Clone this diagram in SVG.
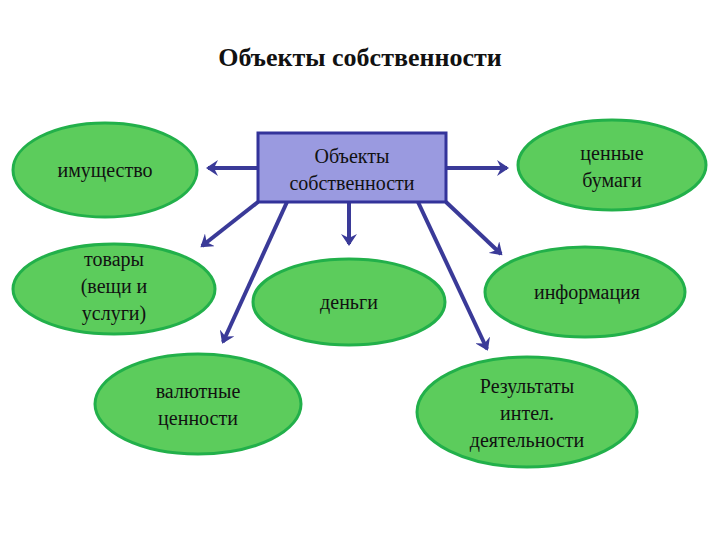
<svg xmlns="http://www.w3.org/2000/svg" width="720" height="540" viewBox="0 0 720 540">
<style>
.e{fill:#5ccc5c;stroke:#22b04a;stroke-width:3}
.t{font-family:"Liberation Serif",serif;font-size:20px;fill:#111;text-anchor:middle}
.c line{stroke:#3a3a98;stroke-width:4;marker-end:url(#a)}
</style>
<defs><marker id="a" markerWidth="4" markerHeight="4" refX="2.5" refY="2" orient="auto"><path d="M0,0 L3,2 L0,4 L1,2 Z" fill="#3a3a98"/></marker></defs>
<rect width="720" height="540" fill="#fff"/>
<text x="360" y="66" class="t" style="font-size:26px;font-weight:bold">Объекты собственности</text>
<g class="c">
<line x1="258" y1="168" x2="208" y2="168"/>
<line x1="446" y1="168" x2="507" y2="168"/>
<line x1="258" y1="202" x2="202" y2="246"/>
<line x1="287" y1="202" x2="223" y2="342"/>
<line x1="349" y1="202" x2="349" y2="244"/>
<line x1="418" y1="202" x2="487" y2="349"/>
<line x1="446" y1="202" x2="501" y2="254"/>
</g>
<g id="center"><rect x="258" y="133" width="188" height="69" fill="#9a9ae0" stroke="#33339a" stroke-width="3"/><text class="t" x="352" y="163">Объекты</text><text class="t" x="352" y="190">собственности</text></g>
<g id="n1"><ellipse class="e" cx="105" cy="170" rx="92" ry="47"/><text class="t" x="105" y="177">имущество</text></g>
<g id="n2"><ellipse class="e" cx="612" cy="165" rx="94" ry="45"/><text class="t" x="612" y="160">ценные</text><text class="t" x="612" y="187">бумаги</text></g>
<g id="n3"><ellipse class="e" cx="114" cy="289" rx="101" ry="45"/><text class="t" x="114" y="266">товары</text><text class="t" x="114" y="293">(вещи и</text><text class="t" x="114" y="320">услуги)</text></g>
<g id="n4"><ellipse class="e" cx="349" cy="302" rx="96" ry="43"/><text class="t" x="349" y="309">деньги</text></g>
<g id="n5"><ellipse class="e" cx="585" cy="292" rx="100" ry="45"/><text class="t" x="587" y="299">информация</text></g>
<g id="n6"><ellipse class="e" cx="198" cy="404" rx="103" ry="50"/><text class="t" x="198" y="398">валютные</text><text class="t" x="198" y="425">ценности</text></g>
<g id="n7"><ellipse class="e" cx="527" cy="412" rx="110" ry="55"/><text class="t" x="527" y="393">Результаты</text><text class="t" x="527" y="420">интел.</text><text class="t" x="527" y="447">деятельности</text></g>
</svg>
